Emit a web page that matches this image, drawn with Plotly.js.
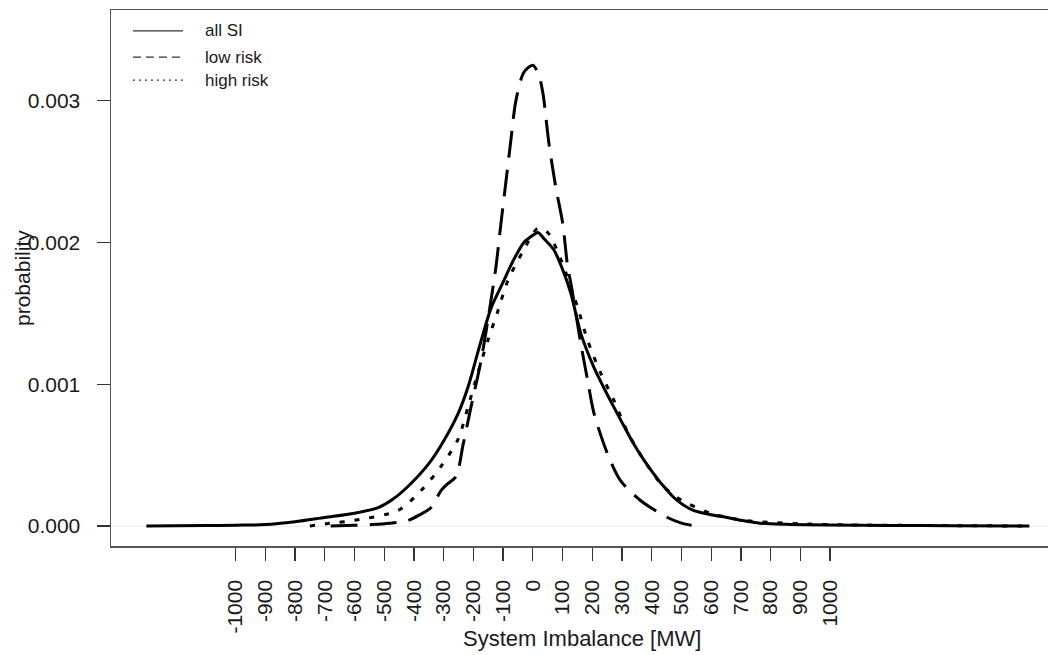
<!DOCTYPE html>
<html>
<head>
<meta charset="utf-8">
<script src="https://cdn.plot.ly/plotly-3.0.1.min.js"></script>
<style>
  html, body { margin: 0; padding: 0; background: #fff; overflow: hidden; }
  #chart { width: 1070px; height: 655px; }
</style>
</head>
<body>
<div id="chart"></div>
<script>
// ---- data (System Imbalance [MW] vs probability density) ----
const allSI_x = [-1300, -1100, -1000, -900, -800, -700, -600, -520, -470, -410, -350, -300, -250, -218, -175, -140, -100, -64, -30, 0, 17, 40, 70, 100, 128, 161, 205, 240, 272, 305, 339, 372, 406, 440, 480, 540, 600, 654, 700, 765, 850, 1000, 1200, 1400, 1670];
const allSI_y = [0, 0.000003, 0.000006, 0.00001, 0.00003, 0.00006, 0.00009, 0.00013, 0.00019, 0.0003, 0.00044, 0.0006, 0.0008, 0.00098, 0.0013, 0.00154, 0.00172, 0.00188, 0.002, 0.00205, 0.00207, 0.00202, 0.00195, 0.00181, 0.00164, 0.00136, 0.00112, 0.00097, 0.00084, 0.00071, 0.00058, 0.00047, 0.00037, 0.00028, 0.00019, 0.00011, 0.00008, 0.00006, 0.00004, 0.00002, 0.000012, 0.000007, 0.000004, 0.000002, 0];

const lowRisk_x = [-680, -600, -540, -480, -419, -380, -342, -309, -285, -258, -235, -208, -174, -141, -124, -107, -91, -74, -57, -30, 0, 20, 34, 54, 77, 100, 117, 128, 161, 184, 205, 251, 295, 362, 453, 500, 547];
const lowRisk_y = [0, 0.000005, 0.00001, 0.00002, 0.00004, 0.00008, 0.00013, 0.00025, 0.0003, 0.00035, 0.00057, 0.00084, 0.00117, 0.00159, 0.00183, 0.00214, 0.00242, 0.00272, 0.003, 0.0032, 0.00325, 0.00318, 0.00305, 0.0027, 0.00239, 0.00214, 0.00183, 0.00171, 0.00129, 0.00103, 0.0008, 0.00051, 0.00032, 0.00018, 0.00006, 0.00002, 0];

const highRisk_x = [-750, -680, -600, -453, -376, -309, -252, -218, -185, -151, -117, -84, -30, 17, 50, 94, 151, 184, 228, 272, 319, 372, 430, 486, 597, 708, 765, 900, 1100, 1300, 1670];
const highRisk_y = [0, 0.00002, 0.00004, 0.00011, 0.00025, 0.00042, 0.00061, 0.00084, 0.00108, 0.00131, 0.00152, 0.00173, 0.00195, 0.0021, 0.00207, 0.00188, 0.00154, 0.00131, 0.00108, 0.00089, 0.00066, 0.00047, 0.0003, 0.0002, 0.00009, 0.00004, 0.00003, 0.000015, 0.000007, 0.000004, 0];

const xTickVals = [-1000, -900, -800, -700, -600, -500, -400, -300, -200, -100, 0, 100, 200, 300, 400, 500, 600, 700, 800, 900, 1000];
const xTickText = ["-1000", "-900", "-800", "-700", "-600", "-500", "-400", "-300", "-200", "-100", "0", "100", "200", "300", "400", "500", "600", "700", "800", "900", "1000"];
const yTickVals = [0, 0.001, 0.002, 0.003];
const yTickText = ["0.000", "0.001", "0.002", "0.003"];

const seriesNames = ["all SI", "low risk", "high risk"];
const seriesDash = ["solid", "27px,12px", "5px,10px"];
const legendDash = ["solid", "8px,5px", "2px,4px"];

const FONT = '"Liberation Sans", Arial, Helvetica, sans-serif';
const TXT = '#1a1a1a';

const xs = [allSI_x, lowRisk_x, highRisk_x];
const ys = [allSI_y, lowRisk_y, highRisk_y];

const traces = xs.map((x, i) => ({
  type: 'scatter', mode: 'lines',
  x: x, y: ys[i], name: seriesNames[i],
  line: { color: '#000', width: 3, dash: seriesDash[i], shape: 'spline', smoothing: 0.8 },
  showlegend: false, hoverinfo: 'skip'
}));

// hand-made legend (thin key lines like the reference)
const legendRowsY = [0.961, 0.912, 0.869];
const shapes = legendRowsY.map((yy, i) => ({
  type: 'line', xref: 'paper', yref: 'paper',
  x0: 0.023, x1: 0.0755, y0: yy, y1: yy,
  line: { color: '#333', width: 1.3, dash: legendDash[i] }
}));
const annotations = legendRowsY.map((yy, i) => ({
  xref: 'paper', yref: 'paper', x: 0.0965, y: yy, xanchor: 'left', yanchor: 'middle',
  text: seriesNames[i], showarrow: false, font: { family: FONT, size: 17, color: TXT }
}));
annotations.push({
  xref: 'paper', yref: 'paper', x: 0.4937, y: -0.1735, xanchor: 'center', yanchor: 'middle',
  text: 'System Imbalance [MW]', showarrow: false, font: { family: FONT, size: 22, color: TXT }
});
annotations.push({
  xref: 'paper', yref: 'paper', x: -0.0933, y: 0.5, xanchor: 'center', yanchor: 'middle',
  text: 'probability', textangle: -90, showarrow: false, font: { family: FONT, size: 21, color: TXT }
});

const layout = {
  width: 1070, height: 655,
  margin: { l: 111, r: 5, t: 10, b: 109, pad: 0 },
  paper_bgcolor: '#fff', plot_bgcolor: '#fff',
  font: { family: FONT, size: 21, color: TXT },
  showlegend: false,
  xaxis: {
    range: [-1419, 1790], showgrid: false, zeroline: false,
    showline: true, linecolor: '#555', linewidth: 1.5, mirror: true,
    tickmode: 'array', tickvals: xTickVals, ticktext: xTickText,
    ticks: 'outside', ticklen: 13, tickwidth: 1.3, tickcolor: '#333',
    tickangle: -90, ticklabelstandoff: 11,
    tickfont: { family: FONT, size: 21, color: TXT }
  },
  yaxis: {
    range: [-0.000141, 0.003639], showgrid: false,
    zeroline: true, zerolinecolor: '#ececec', zerolinewidth: 1,
    showline: true, linecolor: '#555', linewidth: 1.5, mirror: false,
    tickmode: 'array', tickvals: yTickVals, ticktext: yTickText,
    ticks: 'outside', ticklen: 13, tickwidth: 1.3, tickcolor: '#333',
    ticklabelstandoff: 12,
    tickfont: { family: FONT, size: 21, color: TXT }
  },
  shapes: shapes,
  annotations: annotations
};

Plotly.newPlot('chart', traces, layout, { staticPlot: true, displayModeBar: false });
</script>
</body>
</html>
